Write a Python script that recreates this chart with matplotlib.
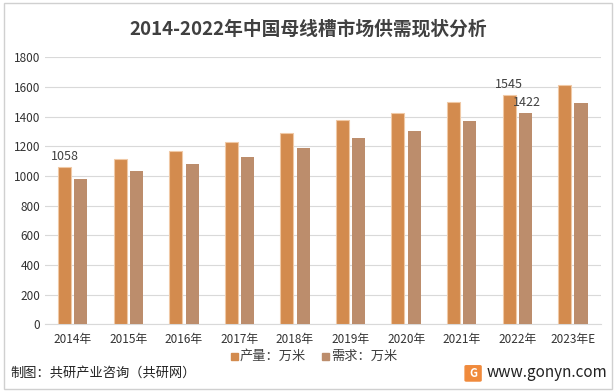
import matplotlib.pyplot as plt
import numpy as np
from matplotlib.patches import FancyBboxPatch, Rectangle

plt.rcParams['font.family'] = ['Noto Sans CJK SC', 'DejaVu Sans']

years = ['2014年', '2015年', '2016年', '2017年', '2018年', '2019年', '2020年', '2021年', '2022年', '2023年E']
output = [1058, 1113, 1167, 1227, 1288, 1376, 1423, 1497, 1545, 1612]
demand = [980, 1032, 1079, 1126, 1187, 1254, 1301, 1369, 1422, 1490]
labels_out = {0: '1058', 8: '1545'}
labels_dem = {8: '1422'}

c_out = '#D38B4E'
c_dem = '#BC8D6C'
txt = '#404040'

fig = plt.figure(figsize=(6.16, 3.92), dpi=100)
fig.patches.append(Rectangle((0.006, 0.008), 0.988, 0.985, transform=fig.transFigure,
                             fill=False, edgecolor='#D0D0D0', linewidth=1))
ax = fig.add_axes([0.073, 0.173, 0.902, 0.681])

x = np.arange(len(years))
w = 0.235
ax.bar(x - w / 2 - 0.03, output, w, color=c_out, edgecolor='#F0C9A6', linewidth=0.8, zorder=3)
ax.bar(x + w / 2 + 0.03, demand, w, color=c_dem, zorder=3)

for i, s in labels_out.items():
    ax.text(x[i] - w / 2 - 0.03, output[i] + 30, s, ha='center', va='bottom', fontsize=9, color=txt)
for i, s in labels_dem.items():
    ax.text(x[i] + w / 2 + 0.05, demand[i] + 30, s, ha='center', va='bottom', fontsize=9, color=txt)

ax.set_xlim(-0.5, len(years) - 0.5)
ax.set_ylim(0, 1800)
ax.set_yticks(range(0, 1801, 200))
ax.yaxis.grid(True, color='#D9D9D9', linewidth=0.8, zorder=0)
ax.set_xticks(x)
ax.set_xticklabels(years)
ax.tick_params(axis='both', length=0, labelsize=8.5, labelcolor='#333333')
ax.tick_params(axis='x', pad=6)
for lab in ax.get_xticklabels() + ax.get_yticklabels():
    lab.set_fontweight('medium')
for sp in ['top', 'right', 'left']:
    ax.spines[sp].set_visible(False)
ax.spines['bottom'].set_color('#D9D9D9')

fig.text(0.5, 0.925, '2014-2022年中国母线槽市场供需现状分析', ha='center', va='center',
         fontsize=13.5, fontweight='bold', color=txt)

# legend
fig.patches.append(Rectangle((0.375, 0.081), 0.011, 0.018, transform=fig.transFigure, color=c_out))
fig.text(0.389, 0.09, '产量：万米', ha='left', va='center', fontsize=9.5, color=txt)
fig.patches.append(Rectangle((0.523, 0.081), 0.011, 0.018, transform=fig.transFigure, color=c_dem))
fig.text(0.537, 0.09, '需求：万米', ha='left', va='center', fontsize=9.5, color=txt)

fig.text(0.017, 0.047, '制图：共研产业咨询（共研网）', ha='left', va='center', fontsize=9.5, color='#222222')
fig.patches.append(FancyBboxPatch((0.757, 0.03), 0.022, 0.035, boxstyle='round,pad=0.002',
                                  transform=fig.transFigure, color='#F08A3C'))
fig.text(0.768, 0.047, 'G', ha='center', va='center', fontsize=8, color='white', fontweight='bold')
fig.text(0.79, 0.05, 'www.gonyn.com', ha='left', va='center', fontsize=11, color='#222222')

fig.savefig('out.png', dpi=100)
